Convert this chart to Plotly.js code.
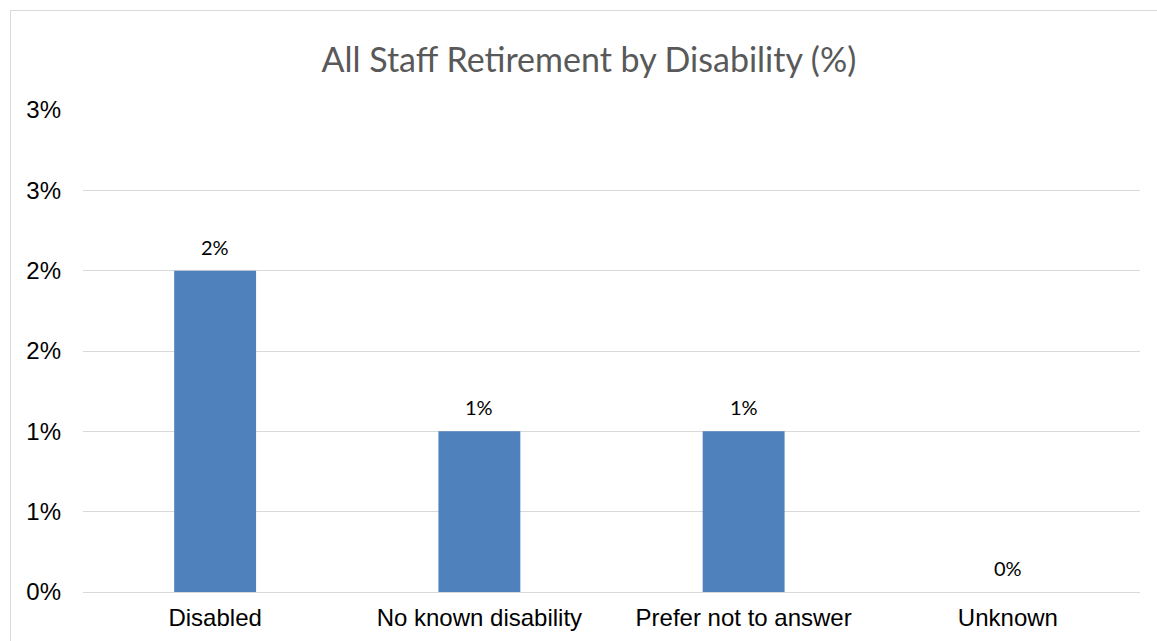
<!DOCTYPE html>
<html>
<head>
<meta charset="utf-8">
<script src="https://cdn.plot.ly/plotly-3.0.1.min.js"></script>
<style>
html,body{margin:0;padding:0;overflow:hidden;background:#fff;}
#wrap{position:relative;width:1157px;height:641px;}
#frame{position:absolute;left:10px;top:10px;width:1200px;height:700px;border:1px solid #d9d9d9;pointer-events:none;}
</style>
</head>
<body>
<div id="wrap"><div id="chart"></div><div id="frame"></div></div>
<script>
const categories = ["Disabled", "No known disability", "Prefer not to answer", "Unknown"];
const values = [2, 1, 1, 0];
const valueLabels = ["2%", "1%", "1%", "0%"];
const tickValues = [0, 0.5, 1, 1.5, 2, 2.5, 3];
const tickLabels = ["0%", "1%", "1%", "2%", "2%", "3%", "3%"];

const trace = {
  type: "bar",
  x: categories,
  y: values,
  marker: {color: "#4f81bd", line: {width: 0}},
  hoverinfo: "none"
};

const annotations = categories.map((c, i) => ({
  x: c, y: values[i], text: valueLabels[i],
  xref: "x", yref: "y", showarrow: false,
  yanchor: "bottom", yshift: 10,
  font: {family: "Lato, 'Open Sans', sans-serif", size: 20, color: "#000"}
}));

const layout = {
  width: 1157, height: 641,
  margin: {l: 83, r: 17, t: 110, b: 49},
  paper_bgcolor: "#fff", plot_bgcolor: "#fff",
  showlegend: false,
  bargap: 0.69,
  title: {
    text: "All Staff Retirement by Disability (%)",
    x: 0.509, xanchor: "center", y: 0.906, yanchor: "middle",
    font: {family: "Lato, 'Open Sans', sans-serif", size: 34, color: "#595959"}
  },
  xaxis: {
    type: "category",
    showgrid: false, showline: false, ticks: "", zeroline: false,
    tickfont: {family: "'Liberation Sans', Arial, sans-serif", size: 24, color: "#000"},
    ticklabelstandoff: 9
  },
  yaxis: {
    range: [0, 3],
    tickvals: tickValues, ticktext: tickLabels,
    showgrid: true, gridcolor: "#d9d9d9", gridwidth: 1,
    zeroline: true, zerolinecolor: "#d9d9d9", zerolinewidth: 1,
    showline: false, ticks: "",
    tickfont: {family: "'Liberation Sans', Arial, sans-serif", size: 24, color: "#000"},
    ticklabelstandoff: 21
  },
  annotations: annotations
};

Plotly.newPlot("chart", [trace], layout, {displayModeBar: false, staticPlot: true});
</script>
</body>
</html>
